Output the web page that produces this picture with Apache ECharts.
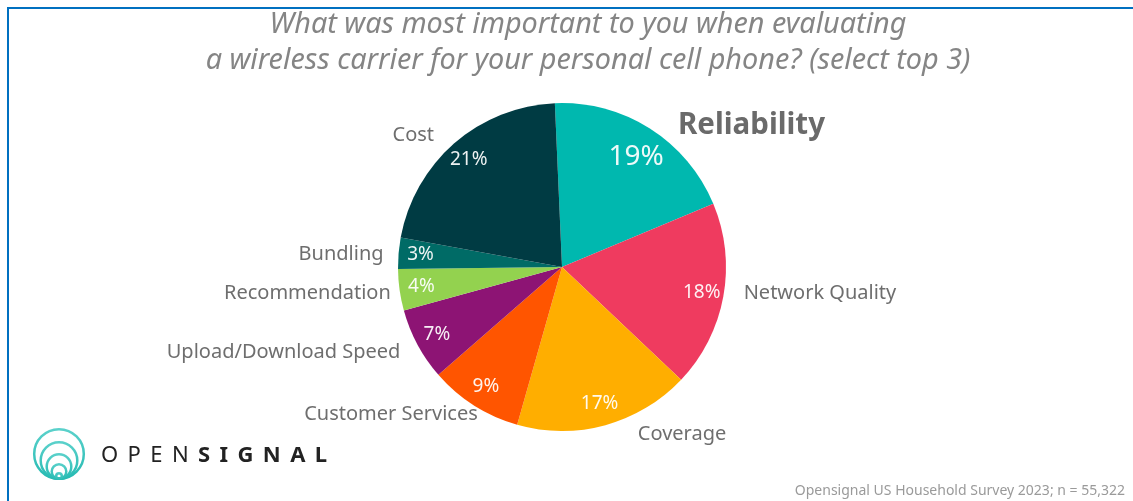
<!DOCTYPE html>
<html>
<head>
<meta charset="utf-8">
<title>Wireless carrier evaluation priorities</title>
<script src="https://cdn.jsdelivr.net/npm/echarts@6/dist/echarts.min.js"></script>
<style>
  html, body { margin: 0; padding: 0; background: #ffffff; }
  #chart { width: 1133px; height: 501px; }
</style>
</head>
<body>
<div id="chart"></div>
<script>
// Survey answers, clockwise from the top of the pie
const categories = ['Reliability', 'Network Quality', 'Coverage', 'Customer Services',
  'Upload/Download Speed', 'Recommendation', 'Bundling', 'Cost'];
const shares = [19, 18, 17, 9, 7, 4, 3, 21];
const sliceColors = ['#00B8AF', '#EF3B5F', '#FFAE00', '#FF5500',
  '#8D1474', '#93D24F', '#006B66', '#003B43'];

// Outer label reach per slice: [radial length, horizontal length]
const labelReach = [[4, 21], [-20, 35], [9, 25], [10, -14], [16, -2], [23, -19], [-9, 19], [11, 8]];

const FONT = '"Noto Sans", sans-serif';
const GREY = '#6E6E6E';

const chart = echarts.init(document.getElementById('chart'), null, { renderer: 'canvas' });

const outerData = categories.map((name, i) => ({
  name: name,
  value: shares[i],
  itemStyle: { color: sliceColors[i] },
  labelLine: { show: false, length: labelReach[i][0], length2: labelReach[i][1] },
  label: i === 0 ? { fontSize: 29.5, fontWeight: 'bold', color: '#6A6A6A' } : {}
}));

const innerData = categories.map((name, i) => ({
  name: name,
  value: shares[i],
  label: i === 0 ? { fontSize: 28 } : {}
}));

// Logo: bottom-tangent rings
const ringRadii = [26, 19.5, 13.5, 8.5, 4];
const logoCx = 59, logoBottom = 480;
const logoRings = ringRadii.map((r) => ({
  type: 'circle',
  shape: { cx: logoCx, cy: logoBottom - r, r: r - 1.2 },
  style: {
    fill: 'none',
    stroke: new echarts.graphic.LinearGradient(0, 0, 0, 1, [
      { offset: 0, color: '#5DD2CC' }, { offset: 1, color: '#23B9B1' }
    ]),
    lineWidth: 2.5
  },
  silent: true
}));

// Logo wordmark with letter spacing
const measureCanvas = document.createElement('canvas').getContext('2d');
const word = 'OPENSIGNAL';
const wordElements = [];
let penX = 101;
for (let i = 0; i < word.length; i++) {
  const bold = i >= 4;
  const font = (bold ? 'bold ' : '') + '22px ' + FONT;
  measureCanvas.font = font;
  const w = measureCanvas.measureText(word[i]).width;
  wordElements.push({
    type: 'text',
    style: {
      x: penX, y: 456, text: word[i], font: font,
      fill: '#222222', textAlign: 'left', textVerticalAlign: 'middle'
    },
    silent: true
  });
  penX += w + 9.4;
}

const option = {
  animation: false,
  backgroundColor: '#ffffff',
  title: {
    text: 'What was most important to you when evaluating\na wireless carrier for your personal cell phone? (select top 3)',
    left: 583,
    top: 2,
    textAlign: 'center',
    textStyle: {
      fontFamily: FONT,
      fontStyle: 'italic',
      fontWeight: 'normal',
      fontSize: 28.8,
      lineHeight: 36,
      color: '#858585'
    }
  },
  series: [
    {
      type: 'pie',
      center: [562, 267],
      radius: 164,
      startAngle: 92.5,
      clockwise: true,
      avoidLabelOverlap: false,
      silent: true,
      label: {
        show: true,
        position: 'outside',
        formatter: '{b}',
        fontFamily: FONT,
        fontSize: 20,
        color: GREY
      },
      labelLine: { show: false },
      itemStyle: { borderWidth: 0 },
      data: outerData
    },
    {
      type: 'pie',
      center: [562, 267],
      radius: [114, 164],
      startAngle: 92.5,
      clockwise: true,
      silent: true,
      avoidLabelOverlap: false,
      itemStyle: { color: 'rgba(0,0,0,0)', borderWidth: 0 },
      label: {
        show: true,
        position: 'inside',
        formatter: '{c}%',
        fontFamily: FONT,
        fontSize: 19,
        color: 'rgba(255,255,255,0.93)'
      },
      // the large headline percentage sits a little lower in its slice
      labelLayout: (params) => (params.dataIndex === 0 ? { dx: -2, dy: 10 } : {}),
      labelLine: { show: false },
      data: innerData
    }
  ],
  graphic: [
    // frame lines
    { type: 'rect', shape: { x: 7, y: 7, width: 1126, height: 2 }, style: { fill: '#0070C0' }, silent: true },
    { type: 'rect', shape: { x: 7, y: 7, width: 2, height: 494 }, style: { fill: '#0070C0' }, silent: true },
    ...logoRings,
    ...wordElements,
    {
      type: 'text',
      style: {
        x: 1125, y: 491,
        text: 'Opensignal US Household Survey 2023; n = 55,322',
        font: '14px ' + FONT,
        fill: '#9A9A9A',
        textAlign: 'right',
        textVerticalAlign: 'middle'
      },
      silent: true
    }
  ]
};

chart.setOption(option);
</script>
</body>
</html>
